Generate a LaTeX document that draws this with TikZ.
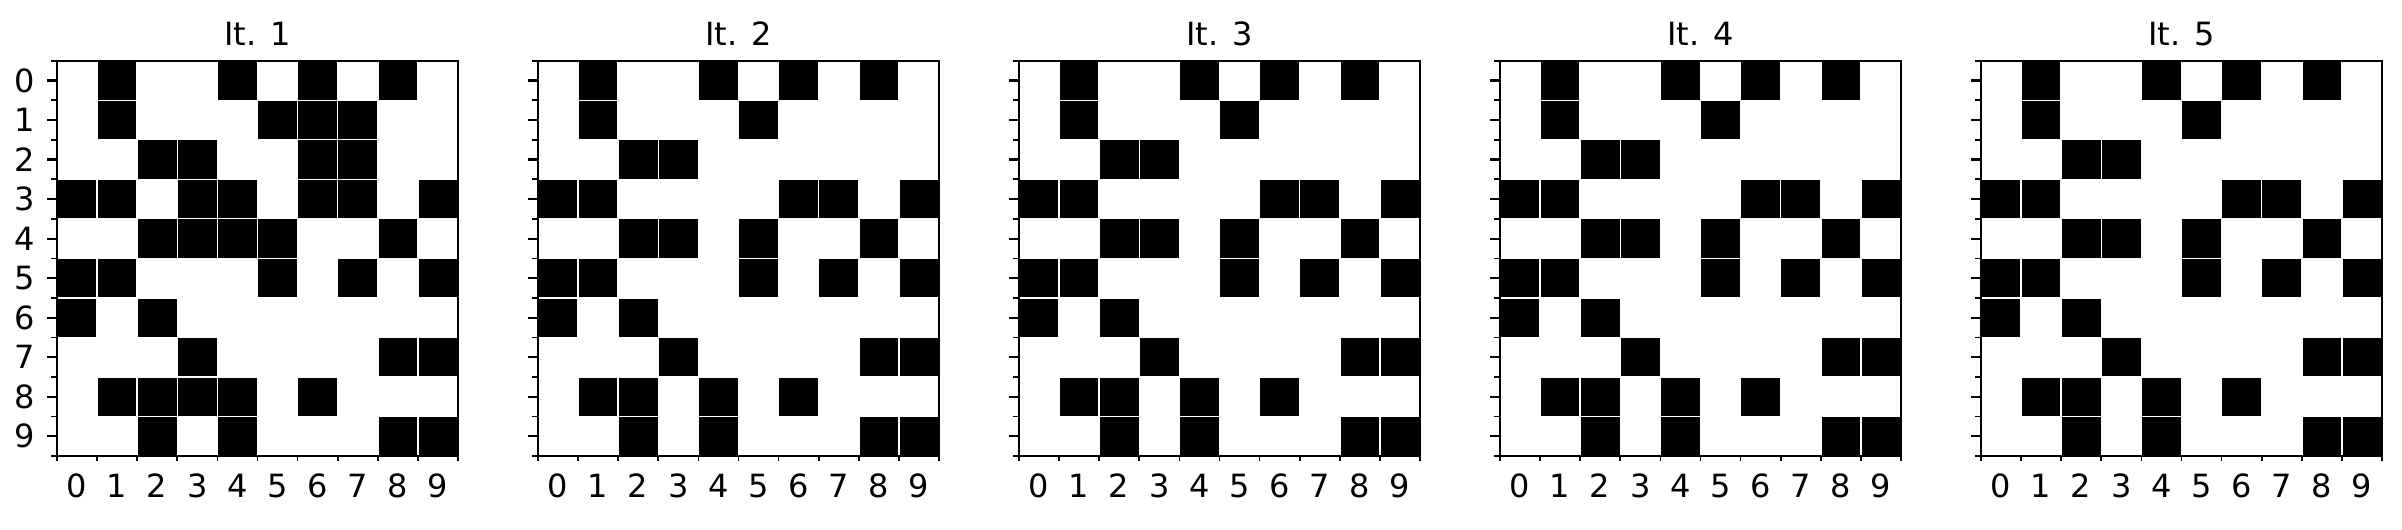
\documentclass[tikz,border=0pt]{standalone}
\usepackage{fontspec}
\setmainfont{DejaVu Sans}
\begin{document}
\begin{tikzpicture}[x=1pt,y=-1pt,
  lbl/.style={inner sep=0pt,font=\fontsize{32}{38}\selectfont},
  frame/.style={line width=2.1pt},
  majtick/.style={line width=2.1pt},
  mintick/.style={line width=1.6pt},
  gridw/.style={white,line width=1.3pt}]
\useasboundingbox (0,0) rectangle (2402,530);
\def\W{40.15}
\def\H{39.53}
\def\AW{401.5}
\def\AH{395.3}
\def\cellsA{0/1,0/4,0/6,0/8,1/1,1/5,1/6,1/7,2/2,2/3,2/6,2/7,3/0,3/1,3/3,3/4,3/6,3/7,3/9,4/2,4/3,4/4,4/5,4/8,5/0,5/1,5/5,5/7,5/9,6/0,6/2,7/3,7/8,7/9,8/1,8/2,8/3,8/4,8/6,9/2,9/4,9/8,9/9}
\def\cellsB{0/1,0/4,0/6,0/8,1/1,1/5,2/2,2/3,3/0,3/1,3/6,3/7,3/9,4/2,4/3,4/5,4/8,5/0,5/1,5/5,5/7,5/9,6/0,6/2,7/3,7/8,7/9,8/1,8/2,8/4,8/6,9/2,9/4,9/8,9/9}
\foreach \p in {1,...,5}{
  \pgfmathsetmacro\L{56.7+(\p-1)*481}
  \ifnum\p=1 \global\let\cl\cellsA \else \global\let\cl\cellsB \fi
  \begin{scope}[shift={(\L,60.7)}]
    % cells
    \foreach \r/\c in \cl {
      \fill[black] (\c*\W,\r*\H) rectangle ++(\W,\H);
    }
    % white separators
    \foreach \i in {1,...,9}{
      \draw[gridw] (\i*\W,0) -- (\i*\W,\AH);
      \draw[gridw] (0,\i*\H) -- (\AW,\i*\H);
    }
    % frame
    \draw[frame] (0,0) rectangle (\AW,\AH);
    % y ticks
    \foreach \i in {0,...,9}{
      \draw[majtick] (-9.3,{(\i+0.5)*\H}) -- (0,{(\i+0.5)*\H});
    }
    \foreach \i in {0,...,10}{
      \draw[mintick] (-5.3,\i*\H) -- (0,\i*\H);
      \draw[mintick] (\i*\W,\AH) -- (\i*\W,\AH+5.3);
    }
    % x labels
    \foreach \i in {0,...,9}{
      \node[lbl,anchor=base] (x\p-\i) at ({(\i+0.5)*\W},436.3) {\i};
    }
    % title
    \node[lbl,anchor=base] (title\p) at (\AW/2,-15.7) {It. \p};
  \end{scope}
}
% y labels on first panel only
\begin{scope}[shift={(56.7,60.7)}]
  \foreach \i in {0,...,9}{
    \node[lbl,anchor=east] (y\i) at (-21.7,{(\i+0.5)*\H}) {\i};
  }
\end{scope}
\end{tikzpicture}
\end{document}
